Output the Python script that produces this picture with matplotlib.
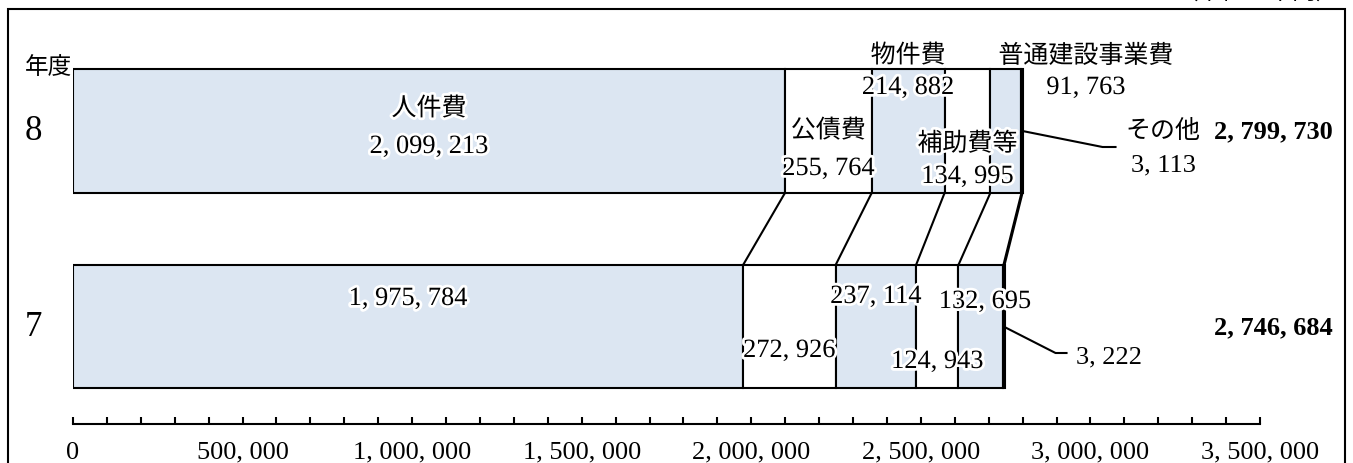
import matplotlib
matplotlib.use('Agg')
import matplotlib.pyplot as plt
import matplotlib.patheffects as pe
from matplotlib.patches import Rectangle
from matplotlib.ticker import MultipleLocator, FuncFormatter
import numpy as np

plt.rcParams['font.family'] = ['Liberation Serif', 'Noto Sans CJK JP']

# Data (単位：千円)
years = ['8', '7']
categories = ['人件費', '公債費', '物件費', '補助費等', '普通建設事業費', 'その他']
values_8 = [2099213, 255764, 214882, 134995, 91763, 3113]
values_7 = [1975784, 272926, 237114, 124943, 132695, 3222]
totals = [2799730, 2746684]

# styles / layout
fills = ['#dce6f2', 'white', '#dce6f2', 'white', '#dce6f2', 'white']
bar_y = [132, 327.5]
bar_h = [124, 123]
PX = 3500000 / 1187  # data units per pixel
halo = [pe.withStroke(linewidth=4, foreground='white')]


def fmt(v):
    return f"{int(v):,}".replace(",", ", ")


fig = plt.figure(figsize=(13.53, 4.64), dpi=100)
ax = fig.add_axes([73 / 1353, 0, 1187 / 1353, 1])
ax.set_xlim(0, 3500000)
ax.set_ylim(464, 0)
ax.patch.set_visible(False)

rows = [values_8, values_7]
edges = []
for i, vals in enumerate(rows):
    right = np.cumsum(vals)
    left = right - np.array(vals)
    edges.append(right)
    ax.barh(bar_y[i], vals, left=left, height=bar_h[i], color=fills,
            edgecolor='black', linewidth=1.5, zorder=2)

# connector lines between the two bars
top_bottom = bar_y[0] + bar_h[0] / 2
low_top = bar_y[1] - bar_h[1] / 2
for k in range(len(categories)):
    ax.plot([edges[0][k], edges[1][k]], [top_bottom, low_top],
            color='black', lw=1.5, zorder=3)

# year 8 labels
name_y8 = [110, 132, 57, 145, 57]
val_y8 = [148, 170, 89, 178, 89]
dx8 = [0, 0, 0, 0, 80]
for k in range(5):
    cx = edges[0][k] - values_8[k] / 2 + dx8[k] * PX
    ax.text(cx, name_y8[k], categories[k], ha='center', va='center',
            fontsize=18, path_effects=halo, zorder=5)
    ax.text(cx, val_y8[k], fmt(values_8[k]), ha='center', va='center',
            fontsize=19, path_effects=halo, zorder=5)

# year 7 labels
val_y7 = [300, 352, 298, 363, 303]
dx7 = [0, 0, 0, 0, 4]
for k in range(5):
    cx = edges[1][k] - values_7[k] / 2 + dx7[k] * PX
    ax.text(cx, val_y7[k], fmt(values_7[k]), ha='center', va='center',
            fontsize=19, path_effects=halo, zorder=5)

# その他 leaders
t8 = totals[0]
ax.plot([t8, t8 + 80 * PX, t8 + 93 * PX], [132, 148, 148], color='black', lw=1.5, zorder=3)
ax.text(t8 + 103 * PX, 132, categories[5], ha='left', va='center', fontsize=18, zorder=5)
ax.text(t8 + 108 * PX, 165, fmt(values_8[5]), ha='left', va='center', fontsize=19, zorder=5)

t7 = totals[1]
ax.plot([t7, t7 + 51 * PX, t7 + 62 * PX], [328, 354, 354], color='black', lw=1.5, zorder=3)
ax.text(t7 + 71 * PX, 357, fmt(values_7[5]), ha='left', va='center', fontsize=19, zorder=5)

# totals and year labels
for i in range(2):
    ax.text(1260 * PX, bar_y[i], fmt(totals[i]), ha='right', va='center',
            fontsize=19, fontweight='bold', zorder=5)
    ax.text(-40 * PX, bar_y[i], years[i], ha='center', va='center', fontsize=25)
ax.text(-25 * PX, 68, '年度', ha='center', va='center', fontsize=17)

# axis
for s in ['left', 'right', 'top']:
    ax.spines[s].set_visible(False)
ax.spines['bottom'].set_position(('data', 425))
ax.spines['bottom'].set_linewidth(1.5)
ax.set_yticks([])
ax.xaxis.set_major_locator(MultipleLocator(500000))
ax.xaxis.set_minor_locator(MultipleLocator(100000))
ax.xaxis.set_major_formatter(FuncFormatter(lambda v, p: fmt(v)))
ax.tick_params(axis='x', which='both', direction='in', length=5, width=1.5)
ax.tick_params(axis='x', which='major', labelsize=19, pad=12)

# frame and unit note (cut at the top edge, as in the source)
fig.add_artist(Rectangle((8 / 1353, -0.1), 1337 / 1353, 1.1 - 10 / 464,
                         transform=fig.transFigure, fill=False, lw=1.5, ec='black'))
fig.text(1340 / 1353, 1 - 4 / 464, '（単位：千円）', ha='right', va='bottom', fontsize=17)

fig.savefig('out.png', dpi=100)
